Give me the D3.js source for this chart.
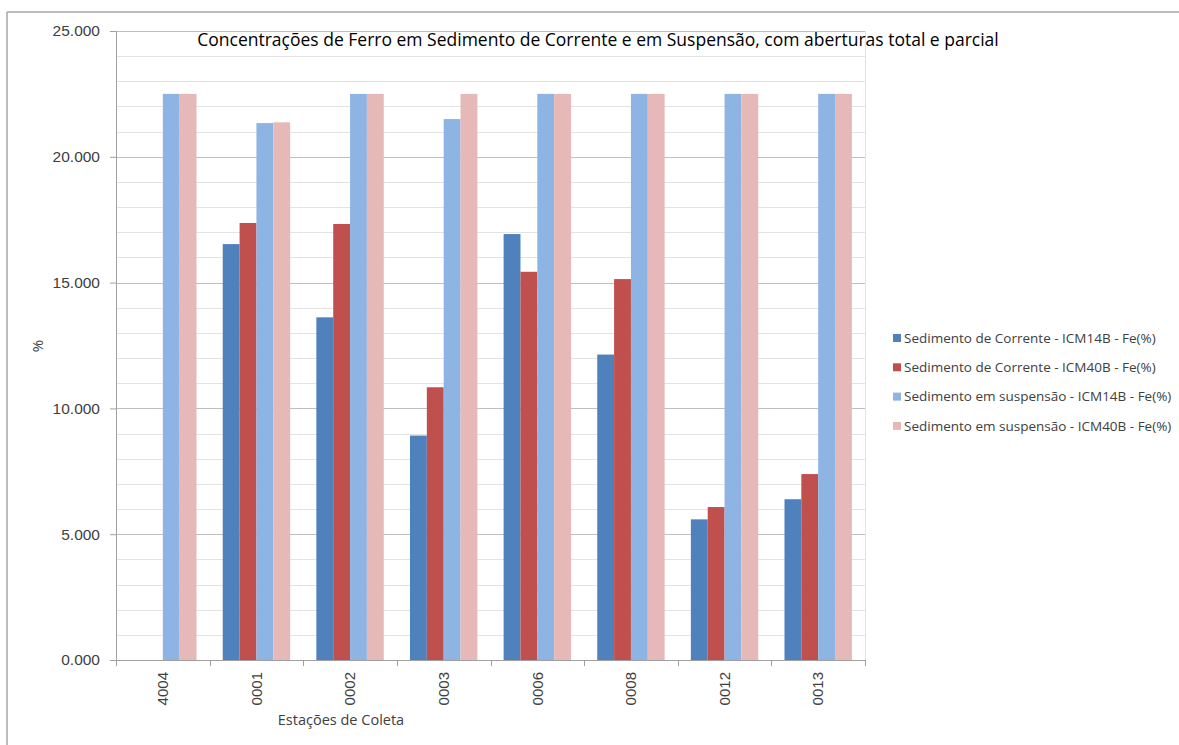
<!DOCTYPE html>
<html>
<head>
<meta charset="utf-8">
<script src="https://cdn.jsdelivr.net/npm/d3@7"></script>
<style>
  html, body { margin: 0; padding: 0; background: #fff; }
  svg { display: block; font-family: "Open Sans", "Liberation Sans", sans-serif; }
</style>
</head>
<body>
<svg id="chart" width="1179" height="745"></svg>
<script>
// Estações de coleta
const stations = ["4004", "0001", "0002", "0003", "0006", "0008", "0012", "0013"];

// Fe (%) por série
const correnteICM14B = [0, 16.53, 13.62, 8.92, 16.93, 12.14, 5.59, 6.39];
const correnteICM40B = [0, 17.37, 17.33, 10.84, 15.43, 15.14, 6.08, 7.39];
const suspensaoICM14B = [22.5, 21.34, 22.5, 21.5, 22.5, 22.5, 22.5, 22.5];
const suspensaoICM40B = [22.5, 21.37, 22.5, 22.5, 22.5, 22.5, 22.5, 22.5];

const seriesNames = [
  "Sedimento de Corrente - ICM14B - Fe(%)",
  "Sedimento de Corrente - ICM40B - Fe(%)",
  "Sedimento em suspensão - ICM14B - Fe(%)",
  "Sedimento em suspensão - ICM40B - Fe(%)"
];
const seriesColors = ["#4f81bd", "#c0504d", "#8eb4e3", "#e6b9b8"];
const seriesValues = [correnteICM14B, correnteICM40B, suspensaoICM14B, suspensaoICM40B];

const yTicks = [0, 5, 10, 15, 20, 25];
const yMinor = d3.range(0, 26, 1);

const svg = d3.select("#chart");

// outer chart frame (top and left edges)
svg.append("line").attr("x1", 7).attr("x2", 1179).attr("y1", 12).attr("y2", 12)
  .attr("stroke", "#a6a6a6").attr("stroke-width", 1.5);
svg.append("line").attr("x1", 7).attr("x2", 7).attr("y1", 12).attr("y2", 745)
  .attr("stroke", "#a6a6a6").attr("stroke-width", 1.5);

const plot = { left: 116, right: 865, top: 31, bottom: 660 };

const x0 = d3.scaleBand().domain(stations).range([plot.left, plot.right]).paddingInner(0).paddingOuter(0);
const groupW = x0.bandwidth() * 0.72;
const x1 = d3.scaleBand().domain(d3.range(4)).range([0, groupW]).padding(0);
const y = d3.scaleLinear().domain([0, 25]).range([plot.bottom, plot.top]);

// minor gridlines
svg.append("g").selectAll("line").data(yMinor.filter(v => v % 5 !== 0)).join("line")
  .attr("x1", plot.left).attr("x2", plot.right)
  .attr("y1", d => Math.round(y(d)) + 0.5).attr("y2", d => Math.round(y(d)) + 0.5)
  .attr("stroke", "#e3e3e3").attr("stroke-width", 1);
// right edge of plot area
svg.append("line").attr("x1", plot.right + 0.5).attr("x2", plot.right + 0.5)
  .attr("y1", plot.top).attr("y2", plot.bottom).attr("stroke", "#e3e3e3");
// major gridlines
svg.append("g").selectAll("line").data(yTicks.filter(v => v > 0)).join("line")
  .attr("x1", plot.left).attr("x2", plot.right)
  .attr("y1", d => Math.round(y(d)) + 0.5).attr("y2", d => Math.round(y(d)) + 0.5)
  .attr("stroke", "#bfbfbf").attr("stroke-width", 1);

// bars
const groups = svg.append("g").selectAll("g").data(stations).join("g")
  .attr("transform", d => `translate(${x0(d) + (x0.bandwidth() - groupW) / 2},0)`);
groups.selectAll("rect")
  .data((d, i) => seriesValues.map((vals, s) => ({ s, v: vals[i] })))
  .join("rect")
  .attr("x", d => x1(d.s))
  .attr("width", x1.bandwidth())
  .attr("y", d => y(d.v))
  .attr("height", d => y(0) - y(d.v))
  .attr("fill", d => seriesColors[d.s]);

// y axis
const yAxis = svg.append("g").attr("transform", `translate(${plot.left},0)`)
  .call(d3.axisLeft(y).tickValues(yTicks).tickFormat(d3.format(".3f")).tickSize(6).tickPadding(10));
yAxis.select(".domain").attr("stroke", "#a0a0a0");
yAxis.selectAll(".tick line").attr("stroke", "#a0a0a0");
yAxis.selectAll("text").attr("fill", "#404040").style("font-size", "15.5px");

// x axis
const xAxis = svg.append("g").attr("transform", `translate(0,${plot.bottom})`)
  .call(d3.axisBottom(x0).tickSize(0).tickFormat(d => d));
xAxis.select(".domain").attr("stroke", "#a0a0a0");
xAxis.selectAll("text")
  .attr("fill", "#404040").style("font-size", "15px")
  .attr("transform", "rotate(-90)")
  .attr("text-anchor", "end")
  .attr("x", -12).attr("y", 0).attr("dy", "0.35em");
// category boundary ticks
svg.append("g").selectAll("line")
  .data(stations.map(s => x0(s)).concat([plot.right])).join("line")
  .attr("x1", d => Math.round(d) + 0.5).attr("x2", d => Math.round(d) + 0.5)
  .attr("y1", plot.bottom).attr("y2", plot.bottom + 6)
  .attr("stroke", "#a0a0a0");

// title
svg.append("text").attr("x", 598).attr("y", 46).attr("text-anchor", "middle")
  .attr("fill", "#000").style("font-size", "17.5px")
  .text("Concentrações de Ferro em Sedimento de Corrente e em Suspensão, com aberturas total e parcial");

// axis titles
svg.append("text").attr("x", 341).attr("y", 725).attr("text-anchor", "middle")
  .attr("fill", "#404040").style("font-size", "14.5px").text("Estações de Coleta");
svg.append("text").attr("transform", "translate(43,346) rotate(-90)").attr("text-anchor", "middle")
  .attr("fill", "#404040").style("font-size", "15px").text("%");

// legend
const legend = svg.append("g").selectAll("g").data(seriesNames).join("g")
  .attr("transform", (d, i) => `translate(893,${338 + i * 29.3})`);
legend.append("rect").attr("x", 0).attr("y", -4).attr("width", 8).attr("height", 8)
  .attr("fill", (d, i) => seriesColors[i]);
legend.append("text").attr("x", 11).attr("y", 0).attr("dy", "0.35em")
  .attr("fill", "#404040").style("font-size", "13.5px").text(d => d);
</script>
</body>
</html>
